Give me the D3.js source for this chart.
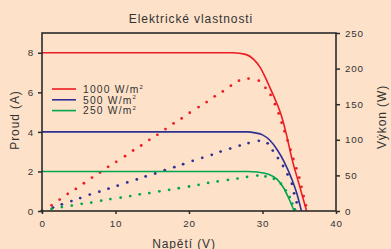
<!DOCTYPE html>
<html>
<head>
<meta charset="utf-8">
<script src="https://cdn.jsdelivr.net/npm/d3@7"></script>
<style>
  html, body { margin: 0; padding: 0; background: #fde1c9; }
  svg { display: block; font-family: "Liberation Sans", Arial, sans-serif; }
</style>
</head>
<body>
<svg id="chart" width="391" height="249"></svg>
<script>
// ── Data ──────────────────────────────────────────────
const xTicks = [0, 10, 20, 30, 40];
const iTicks = [0, 2, 4, 6, 8];
const pTicks = [0, 50, 100, 150, 200, 250];

const series = ['1000 W/m', '500 W/m', '250 W/m'];
const colors = ['#ec1c24', '#2e3192', '#00a651'];

// current vs voltage  [V, A]
const iv1000 = [[0, 8], [26, 8], [27.7, 7.92], [28.8, 7.67], [29.7, 7.25], [30.4, 6.74], [31.1, 6.16],
  [31.8, 5.57], [32.5, 4.9], [33.2, 3.95], [34, 2.65], [35, 1.32], [36, 0]];
const iv500 = [[0, 4], [28, 4], [29, 3.95], [30, 3.85], [31, 3.58], [32, 3.1], [33, 2.45],
  [34, 1.6], [34.7, 0.85], [35.3, 0]];
const iv250 = [[0, 2], [28, 2], [29.3, 1.97], [30.9, 1.85], [32, 1.6], [32.9, 1.15],
  [33.6, 0.62], [34.3, 0]];

// power vs voltage  [V, W]
const pv1000 = [[0, 0], [1.3, 8], [2.4, 16], [3.5, 24], [4.6, 31], [5.7, 39], [6.8, 47], [7.9, 54],
  [9.0, 62], [10.1, 69], [11.3, 77], [12.4, 85], [13.5, 92], [14.6, 100], [15.7, 107], [16.8, 115],
  [17.9, 123], [19.0, 130], [20.1, 138], [21.3, 146], [22.4, 153], [23.5, 161], [24.6, 168],
  [25.7, 176], [26.8, 183], [28.1, 186], [29.5, 183], [30.4, 173], [31.1, 163], [31.7, 150],
  [32.2, 137], [32.6, 124], [33.0, 112], [33.4, 99], [33.8, 86], [34.2, 73], [34.6, 60],
  [35.0, 47], [35.3, 34], [35.6, 21], [35.9, 8]];
const pv500 = [[0, 0], [1.5, 4.8], [2.7, 9.4], [4.0, 14], [5.2, 18.2], [6.5, 23], [7.8, 27.1],
  [9.05, 31.3], [10.3, 35.5], [11.6, 40.2], [12.9, 44.3], [14.1, 48.5], [15.4, 52.7], [16.7, 57.4],
  [18.0, 61.6], [19.2, 65.8], [20.5, 70.5], [21.8, 74.7], [23.1, 78.9], [24.3, 83.5], [25.6, 87.7],
  [26.9, 91.9], [28.1, 95.4], [29.5, 98.5], [30.7, 95.1], [31.4, 84.9], [32.1, 74.4], [32.8, 63.2],
  [33.4, 51.3], [34.0, 38.3], [34.3, 24.8], [34.65, 12.2]];
const pv250 = [[0, 0], [1.3, 2.8], [2.7, 5.6], [4.05, 7.6], [5.4, 10.1], [6.7, 11.8], [8.05, 14.5],
  [9.3, 16.8], [10.7, 18.7], [12.0, 21], [13.3, 23.4], [14.6, 25.2], [15.97, 27.6], [17.3, 29.7],
  [18.6, 32], [20.0, 34.4], [21.3, 36.7], [22.6, 39.5], [23.9, 41.5], [25.3, 43.6], [26.6, 45.5],
  [27.9, 47.8], [29.3, 49.8], [30.4, 48.5], [31.55, 45.3], [32.5, 38.3], [33.15, 29],
  [33.7, 19.6], [34.05, 10.4], [34.4, 2.4]];

const ivAll = [iv1000, iv500, iv250];
const pvAll = [pv1000, pv500, pv250];

// ── Layout ────────────────────────────────────────────
const svg = d3.select('#chart');
const L = 42, R = 336, T = 33, B = 211;
const ink = '#2b2b2b', txt = '#333';

const x  = d3.scaleLinear().domain([0, 40]).range([L, R]);
const yI = d3.scaleLinear().domain([0, 9]).range([B, T]);
const yP = d3.scaleLinear().domain([0, 250]).range([B, T]);

// ── Marks ─────────────────────────────────────────────
const plot = svg.append('g');

pvAll.forEach((pts, k) => {
  plot.append('g').selectAll('circle').data(pts).join('circle')
    .attr('cx', d => x(d[0]))
    .attr('cy', d => yP(d[1]))
    .attr('r', 1.4)
    .attr('fill', colors[k]);
});

const line = d3.line().x(d => x(d[0])).y(d => yI(d[1])).curve(d3.curveMonotoneX);
ivAll.forEach((pts, k) => {
  plot.append('path')
    .attr('d', line(pts))
    .attr('fill', 'none')
    .attr('stroke', colors[k])
    .attr('stroke-width', 1.6);
});

// ── Axes ──────────────────────────────────────────────
const styleAxis = g => {
  g.select('.domain').remove();
  g.selectAll('line').attr('stroke', ink).attr('stroke-width', 1.5);
  g.selectAll('text').attr('fill', txt).attr('font-size', 9.8)
    .attr('letter-spacing', 0.8)
    .attr('font-family', '"Liberation Sans", Arial, sans-serif');
};

svg.append('g').attr('transform', `translate(${L},0)`)
  .call(d3.axisLeft(yI).tickValues(iTicks).tickSize(4).tickPadding(4))
  .call(styleAxis);

svg.append('g').attr('transform', `translate(${R},0)`)
  .call(d3.axisRight(yP).tickValues(pTicks).tickSize(4).tickPadding(5))
  .call(styleAxis);

svg.append('g').attr('transform', `translate(0,${B})`)
  .call(d3.axisBottom(x).tickValues(xTicks).tickSize(3).tickPadding(6))
  .call(styleAxis);

// frame
svg.append('rect')
  .attr('x', L).attr('y', T).attr('width', R - L).attr('height', B - T)
  .attr('fill', 'none').attr('stroke', ink).attr('stroke-width', 1.6);

// ── Labels ────────────────────────────────────────────
const label = (s, tr) => svg.append('text').attr('transform', tr)
  .attr('text-anchor', 'middle').attr('font-size', 12).attr('letter-spacing', 0.9)
  .attr('fill', txt).text(s);

label('Elektrické vlastnosti', 'translate(191,22.5)');
label('Napětí (V)', 'translate(184,248)');
label('Proud (A)', 'translate(19,120) rotate(-90)');
label('Výkon (W)', 'translate(386,117) rotate(-90)');

// ── Legend ────────────────────────────────────────────
const lg = svg.append('g');
series.forEach((name, k) => {
  const yy = 89 + k * 10.8;
  lg.append('line').attr('x1', 52).attr('x2', 76).attr('y1', yy).attr('y2', yy)
    .attr('stroke', colors[k]).attr('stroke-width', 1.6);
  const t = lg.append('text').attr('x', 83).attr('y', yy + 3.8)
    .attr('font-size', 10.3).attr('letter-spacing', 1.2).attr('fill', txt).text(name);
  t.append('tspan').attr('font-size', 6).attr('dy', -4.2).attr('letter-spacing', 0).text('2');
});
</script>
</body>
</html>
